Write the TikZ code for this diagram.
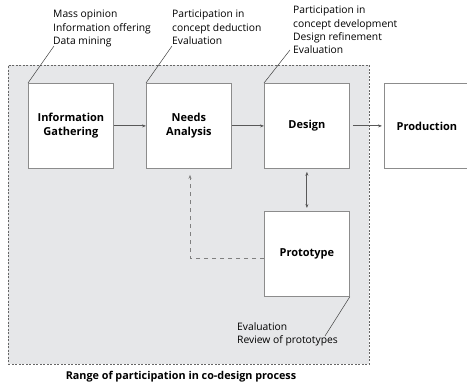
\documentclass[tikz,border=0pt]{standalone}
\usepackage{fontspec}
\setmainfont{Open Sans}
\usetikzlibrary{arrows.meta}
\definecolor{rangefill}{HTML}{E6E7E9}
\begin{document}
\begin{tikzpicture}[x=1pt,y=-1pt,
  stagebox/.style={draw=black!45,fill=white,line width=0.8pt,minimum width=85pt,minimum height=85pt,
    align=center,font=\fontsize{11}{14}\selectfont\bfseries,inner sep=0pt},
  note/.style={align=left,anchor=north west,inner sep=0pt,font=\fontsize{10.3}{13.3}\selectfont},
  leader/.style={draw=black!75,line width=0.5pt},
  flow/.style={draw=black!65,line width=0.9pt,-{Stealth[length=4pt,width=3pt]}},
  flowdash/.style={flow,draw=black!50,dashed,dash pattern=on 4pt off 4pt}]
\useasboundingbox (0,0) rectangle (467,386);
% participation range
\node[draw=black!60,fill=rangefill,line width=0.7pt,dash pattern=on 2pt off 1.5pt,
  minimum width=361pt,minimum height=299pt,inner sep=0pt,anchor=north west] (range) at (8,65) {};
\node[font=\fontsize{10.8}{12}\selectfont\bfseries,inner sep=0pt] (rangelbl) at (181,377) {Range of participation in co-design process};
% stages
\node[stagebox,anchor=north west] (info) at (28,83) {Information\\Gathering};
\node[stagebox,anchor=north west] (needs) at (146,83) {Needs\\Analysis};
\node[stagebox,anchor=north west] (design) at (264,83) {Design};
\node[stagebox,anchor=north west] (prod) at (384,83) {Production};
\node[stagebox,anchor=north west] (proto) at (264,211) {Prototype};
% flow
\draw[flow] (info) -- (needs);
\draw[flow] (needs) -- (design);
\draw[flow,shorten <=3pt,shorten >=2pt] (design) -- (prod);
\draw[flow,{Stealth[length=4pt,width=3pt]}-{Stealth[length=4pt,width=3pt]},shorten <=3pt,shorten >=3pt] (design) -- (proto);
\coordinate (fbk) at (190,258);
\draw[flowdash,shorten >=6pt] (proto.west |- fbk) -- (fbk) -- (needs.south -| fbk);
% notes
\node[note] (n1) at (53,10) {Mass opinion\\Information offering\\Data mining};
\node[note] (n2) at (172,10) {Participation in\\concept deduction\\Evaluation};
\node[note] (n3) at (293,6) {Participation in\\concept development\\Design refinement\\Evaluation};
\node[note] (n4) at (237,322) {Evaluation\\Review of prototypes};
\coordinate (c1) at (54,46);
\coordinate (c2) at (172,46);
\coordinate (c3) at (290,50);
\coordinate (c4) at (325,336);
\draw[leader] (info.north west) -- (c1);
\draw[leader] (needs.north west) -- (c2);
\draw[leader] (design.north west) -- (c3);
\draw[leader] (proto.south east) -- (c4);
\end{tikzpicture}
\end{document}
